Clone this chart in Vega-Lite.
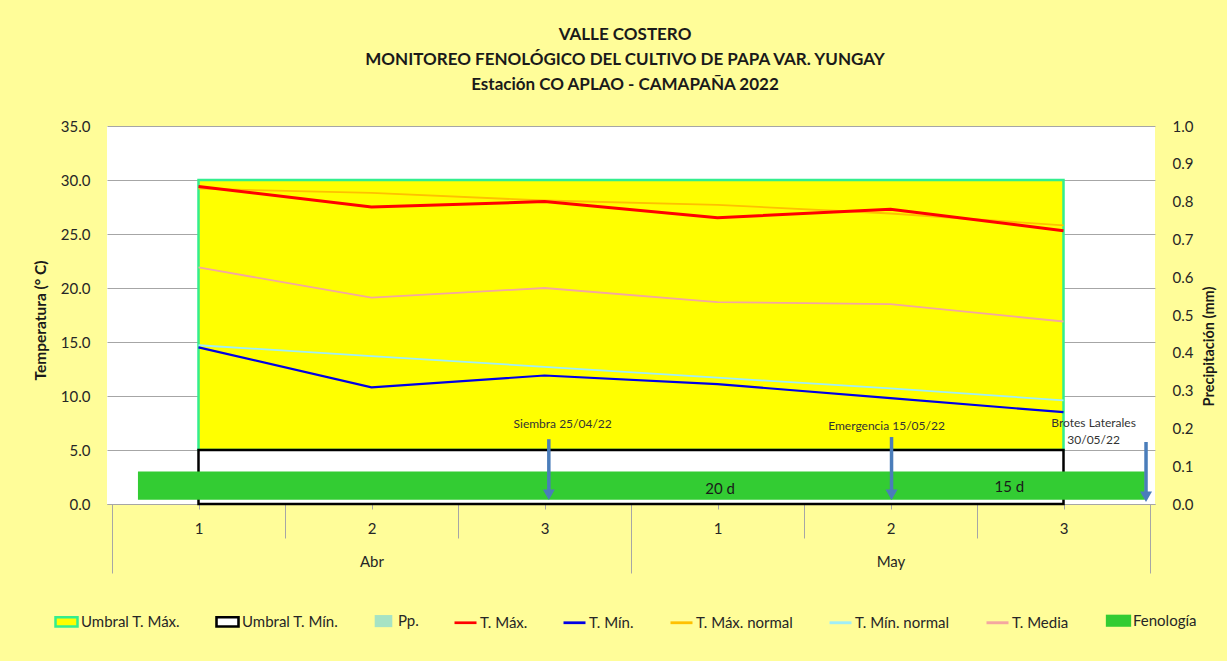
{
  "$schema": "https://vega.github.io/schema/vega-lite/v6.json",
  "autosize": "none",
  "padding": {"left": 107, "top": 126, "right": 72, "bottom": 157},
  "width": 1048,
  "height": 378,
  "background": "#FFFD99",
  "config": {
    "font": "Lato",
    "view": {"fill": "#FFFFFF", "stroke": null},
    "axis": {"labelFont": "Lato", "titleFont": "Lato", "labelColor": "#262626", "titleColor": "#1a1a1a"},
    "legend": {"labelFont": "Lato"}
  },
  "title": {
    "text": ["VALLE COSTERO", "MONITOREO  FENOLÓGICO DEL  CULTIVO DE PAPA VAR. YUNGAY", "Estación CO APLAO -  CAMAPAÑA 2022"],
    "fontSize": 17,
    "fontWeight": "bold",
    "lineHeight": 25,
    "offset": 25,
    "color": "#1a1a1a",
    "anchor": "middle",
    "frame": "group",
    "dx": -6
  },
  "datasets": {
    "temps": [
      {"serie": "T. Media", "x": 0.5, "v": 21.9},
      {"serie": "T. Media", "x": 1.5, "v": 19.1},
      {"serie": "T. Media", "x": 2.5, "v": 20.0},
      {"serie": "T. Media", "x": 3.5, "v": 18.7},
      {"serie": "T. Media", "x": 4.5, "v": 18.5},
      {"serie": "T. Media", "x": 5.5, "v": 16.9},
      {"serie": "T. Máx. normal", "x": 0.5, "v": 29.2},
      {"serie": "T. Máx. normal", "x": 1.5, "v": 28.8},
      {"serie": "T. Máx. normal", "x": 2.5, "v": 28.1},
      {"serie": "T. Máx. normal", "x": 3.5, "v": 27.7},
      {"serie": "T. Máx. normal", "x": 4.5, "v": 26.9},
      {"serie": "T. Máx. normal", "x": 5.5, "v": 25.8},
      {"serie": "T. Mín. normal", "x": 0.5, "v": 14.7},
      {"serie": "T. Mín. normal", "x": 1.5, "v": 13.7},
      {"serie": "T. Mín. normal", "x": 2.5, "v": 12.7},
      {"serie": "T. Mín. normal", "x": 3.5, "v": 11.7},
      {"serie": "T. Mín. normal", "x": 4.5, "v": 10.7},
      {"serie": "T. Mín. normal", "x": 5.5, "v": 9.6},
      {"serie": "T. Máx.", "x": 0.5, "v": 29.4},
      {"serie": "T. Máx.", "x": 1.5, "v": 27.5},
      {"serie": "T. Máx.", "x": 2.5, "v": 28.0},
      {"serie": "T. Máx.", "x": 3.5, "v": 26.5},
      {"serie": "T. Máx.", "x": 4.5, "v": 27.3},
      {"serie": "T. Máx.", "x": 5.5, "v": 25.3},
      {"serie": "T. Mín.", "x": 0.5, "v": 14.5},
      {"serie": "T. Mín.", "x": 1.5, "v": 10.8},
      {"serie": "T. Mín.", "x": 2.5, "v": 11.9},
      {"serie": "T. Mín.", "x": 3.5, "v": 11.1},
      {"serie": "T. Mín.", "x": 4.5, "v": 9.8},
      {"serie": "T. Mín.", "x": 5.5, "v": 8.5}
    ],
    "arrows": [
      {"evento": "Siembra", "x": 2.525, "ytop": 6.0, "yend": 1.0, "yhead": 0.85},
      {"evento": "Emergencia", "x": 4.506, "ytop": 6.2, "yend": 1.0, "yhead": 0.85},
      {"evento": "Brotes Laterales", "x": 5.977, "ytop": 5.74, "yend": 0.8, "yhead": 0.67}
    ],
    "notas": [
      {"t": "Siembra 25/04/22", "x": 2.605, "y": 7.41},
      {"t": "Emergencia 15/05/22", "x": 4.477, "y": 7.22},
      {"t": "Brotes Laterales", "x": 5.674, "y": 7.5},
      {"t": "30/05/22", "x": 5.674, "y": 5.93}
    ],
    "dias": [
      {"t": "20 d", "x": 3.515, "y": 1.4},
      {"t": "15 d", "x": 5.187, "y": 1.6}
    ],
    "pp": [
      {"serie": "Pp.", "x": 0.5, "pp": 0},
      {"serie": "Pp.", "x": 1.5, "pp": 0},
      {"serie": "Pp.", "x": 2.5, "pp": 0},
      {"serie": "Pp.", "x": 3.5, "pp": 0},
      {"serie": "Pp.", "x": 4.5, "pp": 0},
      {"serie": "Pp.", "x": 5.5, "pp": 0}
    ]
  },
  "layer": [
    {
      "layer": [
        {
          "data": {"values": [{"serie": "Umbral T. Máx.", "x1": 0.5, "x2": 5.5, "y1": 5, "y2": 30}]},
          "mark": {"type": "rect", "stroke": "#33EE8E", "strokeWidth": 2.5},
          "encoding": {
            "x": {"field": "x1", "type": "quantitative", "scale": {"domain": [0, 6], "nice": false, "zero": false},
              "axis": {"orient": "bottom", "values": [0.5, 1.5, 2.5, 3.5, 4.5, 5.5], "labelExpr": "format(floor(datum.value) % 3 + 1, 'd')", "labelFlush": false, "tickSize": 5, "tickColor": "#A6A6A6", "domainColor": "#A6A6A6", "labelPadding": 12, "labelFontSize": 15, "grid": false, "title": null}},
            "x2": {"field": "x2"},
            "y": {"field": "y1", "type": "quantitative", "scale": {"domain": [0, 35], "nice": false, "zero": true},
              "axis": {"orient": "left", "values": [0, 5, 10, 15, 20, 25, 30, 35], "format": ".1f", "grid": true, "gridColor": "#A6A6A6", "gridWidth": 1, "domain": false, "ticks": false, "labelPadding": 17, "labelFontSize": 15, "title": "Temperatura (° C)", "titleFontSize": 15.5, "titleFontWeight": "bold", "titlePadding": 12, "titleY": 194}},
            "y2": {"field": "y2"},
            "color": {"field": "serie", "type": "nominal", "legend": null,
              "scale": {"domain": ["Fenología", "Umbral T. Máx.", "Umbral T. Mín.", "Pp.", "T. Máx.", "T. Mín.", "T. Máx. normal", "T. Mín. normal", "T. Media"],
                "range": ["#33CC33", "#FFFF00", "#FFFFFF", "#A6E3C4", "#FF0000", "#0000E6", "#FFC000", "#A0EEF8", "#F4A7A0"]}}
          }
        },
        {
          "data": {"values": [{"serie": "Umbral T. Mín.", "x1": 0.5, "x2": 5.5, "y1": 0, "y2": 5}]},
          "mark": {"type": "rect", "stroke": "#000000", "strokeWidth": 2.5},
          "encoding": {
            "x": {"field": "x1", "type": "quantitative", "scale": {"domain": [0, 6], "nice": false, "zero": false},
              "axis": {"orient": "bottom", "values": [1, 2, 4, 5], "labels": false, "domain": false, "tickSize": 34, "tickColor": "#A6A6A6", "grid": false, "title": null}},
            "x2": {"field": "x2"},
            "y": {"field": "y1", "type": "quantitative", "scale": {"domain": [0, 35], "nice": false, "zero": true},
              "axis": {"orient": "left", "values": [0, 5, 10, 15, 20, 25, 30, 35], "format": ".1f", "grid": true, "gridColor": "#A6A6A6", "gridWidth": 1, "domain": false, "ticks": false, "labelPadding": 17, "labelFontSize": 15, "title": "Temperatura (° C)", "titleFontSize": 15.5, "titleFontWeight": "bold", "titlePadding": 12, "titleY": 194}},
            "y2": {"field": "y2"},
            "color": {"field": "serie", "type": "nominal", "legend": null,
              "scale": {"domain": ["Fenología", "Umbral T. Máx.", "Umbral T. Mín.", "Pp.", "T. Máx.", "T. Mín.", "T. Máx. normal", "T. Mín. normal", "T. Media"],
                "range": ["#33CC33", "#FFFF00", "#FFFFFF", "#A6E3C4", "#FF0000", "#0000E6", "#FFC000", "#A0EEF8", "#F4A7A0"]}}
          }
        },
        {
          "data": {"values": [{"serie": "Fenología", "x1": 0.15, "x2": 5.97, "y1": 0.4, "y2": 3.0}]},
          "mark": {"type": "rect"},
          "encoding": {
            "x": {"field": "x1", "type": "quantitative", "scale": {"domain": [0, 6], "nice": false, "zero": false},
              "axis": {"orient": "bottom", "values": [0, 3, 6], "labels": false, "domain": false, "tickSize": 69, "tickColor": "#A6A6A6", "grid": false, "title": null}},
            "x2": {"field": "x2"},
            "y": {"field": "y1", "type": "quantitative", "scale": {"domain": [0, 35], "nice": false, "zero": true},
              "axis": {"orient": "left", "values": [0, 5, 10, 15, 20, 25, 30, 35], "format": ".1f", "grid": true, "gridColor": "#A6A6A6", "gridWidth": 1, "domain": false, "ticks": false, "labelPadding": 17, "labelFontSize": 15, "title": "Temperatura (° C)", "titleFontSize": 15.5, "titleFontWeight": "bold", "titlePadding": 12, "titleY": 194}},
            "y2": {"field": "y2"},
            "color": {"field": "serie", "type": "nominal", "legend": null,
              "scale": {"domain": ["Fenología", "Umbral T. Máx.", "Umbral T. Mín.", "Pp.", "T. Máx.", "T. Mín.", "T. Máx. normal", "T. Mín. normal", "T. Media"],
                "range": ["#33CC33", "#FFFF00", "#FFFFFF", "#A6E3C4", "#FF0000", "#0000E6", "#FFC000", "#A0EEF8", "#F4A7A0"]}}
          }
        },
        {
          "data": {"name": "temps"},
          "transform": [{"filter": "datum.serie === 'T. Media' || datum.serie === 'T. Máx. normal' || datum.serie === 'T. Mín. normal'"}],
          "mark": {"type": "line", "strokeWidth": 1.8},
          "encoding": {
            "x": {"field": "x", "type": "quantitative", "scale": {"domain": [0, 6], "nice": false, "zero": false},
              "axis": {"orient": "bottom", "values": [1.5, 4.5], "labelExpr": "datum.value < 3 ? 'Abr' : 'May'", "labelFlush": false, "ticks": false, "domain": false, "labelPadding": 50, "labelFontSize": 15, "grid": false, "title": null}},
            "y": {"field": "v", "type": "quantitative", "scale": {"domain": [0, 35], "nice": false, "zero": true},
              "axis": {"orient": "left", "values": [0, 5, 10, 15, 20, 25, 30, 35], "format": ".1f", "grid": true, "gridColor": "#A6A6A6", "gridWidth": 1, "domain": false, "ticks": false, "labelPadding": 17, "labelFontSize": 15, "title": "Temperatura (° C)", "titleFontSize": 15.5, "titleFontWeight": "bold", "titlePadding": 12, "titleY": 194}},
            "color": {"field": "serie", "type": "nominal", "legend": null,
              "scale": {"domain": ["Fenología", "Umbral T. Máx.", "Umbral T. Mín.", "Pp.", "T. Máx.", "T. Mín.", "T. Máx. normal", "T. Mín. normal", "T. Media"],
                "range": ["#33CC33", "#FFFF00", "#FFFFFF", "#A6E3C4", "#FF0000", "#0000E6", "#FFC000", "#A0EEF8", "#F4A7A0"]}}
          }
        },
        {
          "data": {"name": "temps"},
          "transform": [{"filter": "datum.serie === 'T. Máx.'"}],
          "mark": {"type": "line", "strokeWidth": 3},
          "encoding": {
            "x": {"field": "x", "type": "quantitative", "axis": null},
            "y": {"field": "v", "type": "quantitative", "scale": {"domain": [0, 35], "nice": false, "zero": true},
              "axis": {"orient": "left", "values": [0, 5, 10, 15, 20, 25, 30, 35], "format": ".1f", "grid": true, "gridColor": "#A6A6A6", "gridWidth": 1, "domain": false, "ticks": false, "labelPadding": 17, "labelFontSize": 15, "title": "Temperatura (° C)", "titleFontSize": 15.5, "titleFontWeight": "bold", "titlePadding": 12, "titleY": 194}},
            "color": {"field": "serie", "type": "nominal", "legend": null,
              "scale": {"domain": ["Fenología", "Umbral T. Máx.", "Umbral T. Mín.", "Pp.", "T. Máx.", "T. Mín.", "T. Máx. normal", "T. Mín. normal", "T. Media"],
                "range": ["#33CC33", "#FFFF00", "#FFFFFF", "#A6E3C4", "#FF0000", "#0000E6", "#FFC000", "#A0EEF8", "#F4A7A0"]}}
          }
        },
        {
          "data": {"name": "temps"},
          "transform": [{"filter": "datum.serie === 'T. Mín.'"}],
          "mark": {"type": "line", "strokeWidth": 2.2},
          "encoding": {
            "x": {"field": "x", "type": "quantitative", "axis": null},
            "y": {"field": "v", "type": "quantitative", "scale": {"domain": [0, 35], "nice": false, "zero": true},
              "axis": {"orient": "left", "values": [0, 5, 10, 15, 20, 25, 30, 35], "format": ".1f", "grid": true, "gridColor": "#A6A6A6", "gridWidth": 1, "domain": false, "ticks": false, "labelPadding": 17, "labelFontSize": 15, "title": "Temperatura (° C)", "titleFontSize": 15.5, "titleFontWeight": "bold", "titlePadding": 12, "titleY": 194}},
            "color": {"field": "serie", "type": "nominal", "legend": null,
              "scale": {"domain": ["Fenología", "Umbral T. Máx.", "Umbral T. Mín.", "Pp.", "T. Máx.", "T. Mín.", "T. Máx. normal", "T. Mín. normal", "T. Media"],
                "range": ["#33CC33", "#FFFF00", "#FFFFFF", "#A6E3C4", "#FF0000", "#0000E6", "#FFC000", "#A0EEF8", "#F4A7A0"]}}
          }
        },
        {
          "data": {"name": "arrows"},
          "mark": {"type": "rule", "color": "#4A7DBA", "strokeWidth": 3.5},
          "encoding": {
            "x": {"field": "x", "type": "quantitative", "axis": null},
            "y": {"field": "ytop", "type": "quantitative", "scale": {"domain": [0, 35], "nice": false, "zero": true},
              "axis": {"orient": "left", "values": [0, 5, 10, 15, 20, 25, 30, 35], "format": ".1f", "grid": true, "gridColor": "#A6A6A6", "gridWidth": 1, "domain": false, "ticks": false, "labelPadding": 17, "labelFontSize": 15, "title": "Temperatura (° C)", "titleFontSize": 15.5, "titleFontWeight": "bold", "titlePadding": 12, "titleY": 194}},
            "y2": {"field": "yend"}
          }
        },
        {
          "data": {"name": "arrows"},
          "mark": {"type": "point", "shape": "triangle-down", "filled": true, "size": 144, "color": "#4A7DBA", "opacity": 1},
          "encoding": {
            "x": {"field": "x", "type": "quantitative", "axis": null},
            "y": {"field": "yhead", "type": "quantitative", "scale": {"domain": [0, 35], "nice": false, "zero": true},
              "axis": {"orient": "left", "values": [0, 5, 10, 15, 20, 25, 30, 35], "format": ".1f", "grid": true, "gridColor": "#A6A6A6", "gridWidth": 1, "domain": false, "ticks": false, "labelPadding": 17, "labelFontSize": 15, "title": "Temperatura (° C)", "titleFontSize": 15.5, "titleFontWeight": "bold", "titlePadding": 12, "titleY": 194}}
          }
        },
        {
          "data": {"name": "notas"},
          "mark": {"type": "text", "fontSize": 12, "color": "#333333", "font": "Lato"},
          "encoding": {
            "x": {"field": "x", "type": "quantitative", "axis": null},
            "y": {"field": "y", "type": "quantitative", "scale": {"domain": [0, 35], "nice": false, "zero": true},
              "axis": {"orient": "left", "values": [0, 5, 10, 15, 20, 25, 30, 35], "format": ".1f", "grid": true, "gridColor": "#A6A6A6", "gridWidth": 1, "domain": false, "ticks": false, "labelPadding": 17, "labelFontSize": 15, "title": "Temperatura (° C)", "titleFontSize": 15.5, "titleFontWeight": "bold", "titlePadding": 12, "titleY": 194}},
            "text": {"field": "t"}
          }
        },
        {
          "data": {"name": "dias"},
          "mark": {"type": "text", "fontSize": 15, "color": "#1a1a1a", "font": "Lato"},
          "encoding": {
            "x": {"field": "x", "type": "quantitative", "axis": null},
            "y": {"field": "y", "type": "quantitative", "scale": {"domain": [0, 35], "nice": false, "zero": true},
              "axis": {"orient": "left", "values": [0, 5, 10, 15, 20, 25, 30, 35], "format": ".1f", "grid": true, "gridColor": "#A6A6A6", "gridWidth": 1, "domain": false, "ticks": false, "labelPadding": 17, "labelFontSize": 15, "title": "Temperatura (° C)", "titleFontSize": 15.5, "titleFontWeight": "bold", "titlePadding": 12, "titleY": 194}},
            "text": {"field": "t"}
          }
        }
      ],
      "resolve": {"axis": {"x": "independent"}}
    },
    {
      "data": {"name": "pp"},
      "mark": {"type": "bar", "size": 40},
      "encoding": {
        "x": {"field": "x", "type": "quantitative", "scale": {"domain": [0, 6], "nice": false, "zero": false}, "axis": null},
        "y": {"field": "pp", "type": "quantitative", "scale": {"domain": [0, 1], "nice": false},
          "axis": {"orient": "right", "values": [0, 0.1, 0.2, 0.3, 0.4, 0.5, 0.6, 0.7, 0.8, 0.9, 1.0], "format": ".1f", "grid": false, "domain": false, "ticks": false, "labelPadding": 17, "labelFontSize": 15, "title": "Precipitación (mm)", "titleFontSize": 14.5, "titleFontWeight": "bold", "titlePadding": 10, "titleAngle": 270, "titleBaseline": "top", "titleY": 220}},
        "color": {"field": "serie", "type": "nominal", "legend": null,
          "scale": {"domain": ["Fenología", "Umbral T. Máx.", "Umbral T. Mín.", "Pp.", "T. Máx.", "T. Mín.", "T. Máx. normal", "T. Mín. normal", "T. Media"],
            "range": ["#33CC33", "#FFFF00", "#FFFFFF", "#A6E3C4", "#FF0000", "#0000E6", "#FFC000", "#A0EEF8", "#F4A7A0"]}}
      }
    },
    {
      "data": {"name": "pp"},
      "mark": {"type": "point", "opacity": 0, "filled": true},
      "encoding": {
        "x": {"field": "x", "type": "quantitative", "scale": {"domain": [0, 6], "nice": false, "zero": false}, "axis": null},
        "y": {"field": "pp", "type": "quantitative", "scale": {"domain": [0, 1], "nice": false}, "axis": null},
        "shape": {"field": "serie", "type": "nominal",
          "scale": {"domain": ["Umbral T. Máx.", "Umbral T. Mín.", "Pp.", "T. Máx.", "T. Mín.", "T. Máx. normal", "T. Mín. normal", "T. Media", "Fenología"],
            "range": ["M-1,-0.42H1V0.42H-1Z", "M-1,-0.42H1V0.42H-1Z", "M-0.8,-0.55H0.8V0.55H-0.8Z", "stroke", "stroke", "stroke", "stroke", "stroke", "M-1.15,-0.55H1.15V0.55H-1.15Z"]},
          "legend": {"orient": "none", "legendX": -53, "legendY": 482, "direction": "horizontal", "title": null, "symbolSize": 484, "symbolOpacity": 1, "labelOffset": 2, "columnPadding": 30, "labelFontSize": 15, "labelColor": "#262626"}},
        "fill": {"field": "serie", "type": "nominal",
          "scale": {"domain": ["Umbral T. Máx.", "Umbral T. Mín.", "Pp.", "T. Máx.", "T. Mín.", "T. Máx. normal", "T. Mín. normal", "T. Media", "Fenología"],
            "range": ["#FFFF00", "#FFFFFF", "#A6E3C4", "transparent", "transparent", "transparent", "transparent", "transparent", "#33CC33"]},
          "legend": {"orient": "none", "legendX": -53, "legendY": 482, "direction": "horizontal", "title": null, "symbolSize": 484, "symbolOpacity": 1, "labelOffset": 2, "columnPadding": 30, "labelFontSize": 15, "labelColor": "#262626"}},
        "stroke": {"field": "serie", "type": "nominal",
          "scale": {"domain": ["Umbral T. Máx.", "Umbral T. Mín.", "Pp.", "T. Máx.", "T. Mín.", "T. Máx. normal", "T. Mín. normal", "T. Media", "Fenología"],
            "range": ["#33EE8E", "#000000", "transparent", "#FF0000", "#0000E6", "#FFC000", "#A0EEF8", "#F4A7A0", "transparent"]},
          "legend": {"orient": "none", "legendX": -53, "legendY": 482, "direction": "horizontal", "title": null, "symbolSize": 484, "symbolOpacity": 1, "labelOffset": 2, "columnPadding": 30, "labelFontSize": 15, "labelColor": "#262626"}},
        "strokeWidth": {"field": "serie", "type": "nominal",
          "scale": {"domain": ["Umbral T. Máx.", "Umbral T. Mín.", "Pp.", "T. Máx.", "T. Mín.", "T. Máx. normal", "T. Mín. normal", "T. Media", "Fenología"],
            "range": [2.5, 3, 0, 3, 3, 3, 3, 3, 0]},
          "legend": {"orient": "none", "legendX": -53, "legendY": 482, "direction": "horizontal", "title": null, "symbolSize": 484, "symbolOpacity": 1, "labelOffset": 2, "columnPadding": 30, "labelFontSize": 15, "labelColor": "#262626"}}
      }
    }
  ],
  "resolve": {"scale": {"y": "independent"}}
}
